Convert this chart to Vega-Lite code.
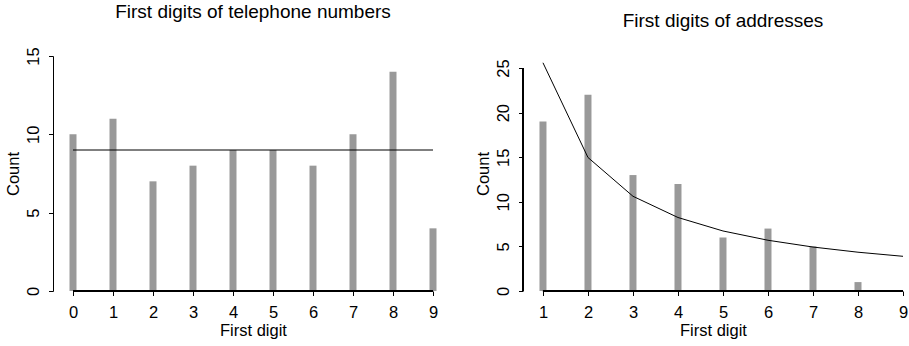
{
  "$schema": "https://vega.github.io/schema/vega-lite/v6.json",
  "padding": {"left": 5, "top": 2, "right": 0, "bottom": 0},
  "background": "white",
  "spacing": 22,
  "config": {
    "font": "Liberation Sans",
    "view": {"stroke": null},
    "axis": {
      "grid": false,
      "domainColor": "black",
      "tickColor": "black",
      "labelColor": "black",
      "titleColor": "black",
      "labelFont": "Liberation Sans",
      "titleFont": "Liberation Sans",
      "labelFontSize": 16.5,
      "titleFontSize": 16.5,
      "titleFontWeight": "normal",
      "tickSize": 4.5,
      "tickWidth": 1,
      "domainWidth": 1,
      "labelOverlap": false,
      "labelFlush": false
    },
    "title": {
      "font": "Liberation Sans",
      "fontSize": 19,
      "fontWeight": "normal",
      "color": "black",
      "anchor": "middle",
      "frame": "group",
      "baseline": "alphabetic",
      "offset": 25
    }
  },
  "datasets": {
    "phone": [
      {"digit": 0, "count": 10, "expected": 9},
      {"digit": 1, "count": 11, "expected": 9},
      {"digit": 2, "count": 7, "expected": 9},
      {"digit": 3, "count": 8, "expected": 9},
      {"digit": 4, "count": 9, "expected": 9},
      {"digit": 5, "count": 9, "expected": 9},
      {"digit": 6, "count": 8, "expected": 9},
      {"digit": 7, "count": 10, "expected": 9},
      {"digit": 8, "count": 14, "expected": 9},
      {"digit": 9, "count": 4, "expected": 9}
    ],
    "address": [
      {"digit": 1, "count": 19, "expected": 25.59},
      {"digit": 2, "count": 22, "expected": 14.97},
      {"digit": 3, "count": 13, "expected": 10.62},
      {"digit": 4, "count": 12, "expected": 8.24},
      {"digit": 5, "count": 6, "expected": 6.73},
      {"digit": 6, "count": 7, "expected": 5.69},
      {"digit": 7, "count": 5, "expected": 4.93},
      {"digit": 8, "count": 1, "expected": 4.35},
      {"digit": 9, "count": 0, "expected": 3.89}
    ]
  },
  "hconcat": [
    {
      "width": 400,
      "height": 235,
      "title": "First digits of telephone numbers",
      "data": {"name": "phone"},
      "layer": [
        {
          "mark": {"type": "bar", "size": 7, "color": "#999999"},
          "encoding": {
            "x": {
              "field": "digit", "type": "quantitative",
              "scale": {"domain": [-0.5, 9.5], "nice": false, "zero": false, "padding": 0},
              "axis": {"title": "First digit", "values": [0,1,2,3,4,5,6,7,8,9], "format": "d", "domain": false, "labelPadding": 9, "titlePadding": 1}
            },
            "y": {
              "field": "count", "type": "quantitative",
              "scale": {"domain": [0, 15], "nice": false, "padding": 0},
              "axis": {"title": "Count", "values": [0,5,10,15], "labelAngle": 270, "labelAlign": "center", "labelBaseline": "alphabetic", "labelPadding": 10, "titlePadding": 4}
            }
          }
        },
        {
          "mark": {"type": "line", "color": "black", "strokeWidth": 1},
          "encoding": {
            "x": {"field": "digit", "type": "quantitative"},
            "y": {"field": "expected", "type": "quantitative"}
          }
        },
        {
          "mark": {"type": "rule", "color": "black", "strokeWidth": 1},
          "encoding": {
            "x": {"datum": 0},
            "x2": {"datum": 9},
            "y": {"datum": 0}
          }
        }
      ]
    },
    {
      "width": 380,
      "height": 235,
      "title": {"text": "First digits of addresses", "dx": 10},
      "data": {"name": "address"},
      "layer": [
        {
          "mark": {"type": "bar", "size": 7, "color": "#999999"},
          "encoding": {
            "x": {
              "field": "digit", "type": "quantitative",
              "scale": {"domain": [0.556, 9.0], "nice": false, "zero": false, "padding": 0},
              "axis": {"title": "First digit", "values": [1,2,3,4,5,6,7,8,9], "format": "d", "domain": false, "labelPadding": 9, "titlePadding": 1}
            },
            "y": {
              "field": "count", "type": "quantitative",
              "scale": {"domain": [0, 26.35], "nice": false, "padding": 0},
              "axis": {"title": "Count", "values": [0,5,10,15,20,25], "domain": false, "labelAngle": 270, "labelAlign": "center", "labelBaseline": "alphabetic", "labelPadding": 10, "titlePadding": 4}
            }
          }
        },
        {
          "mark": {"type": "line", "color": "black", "strokeWidth": 1},
          "encoding": {
            "x": {"field": "digit", "type": "quantitative"},
            "y": {"field": "expected", "type": "quantitative"}
          }
        },
        {
          "mark": {"type": "rule", "color": "black", "strokeWidth": 1},
          "encoding": {
            "x": {"datum": 1},
            "x2": {"datum": 9},
            "y": {"datum": 0}
          }
        },
        {
          "mark": {"type": "rule", "color": "black", "strokeWidth": 1},
          "encoding": {
            "x": {"datum": 0.556},
            "y": {"datum": 0},
            "y2": {"datum": 25}
          }
        }
      ]
    }
  ]
}
